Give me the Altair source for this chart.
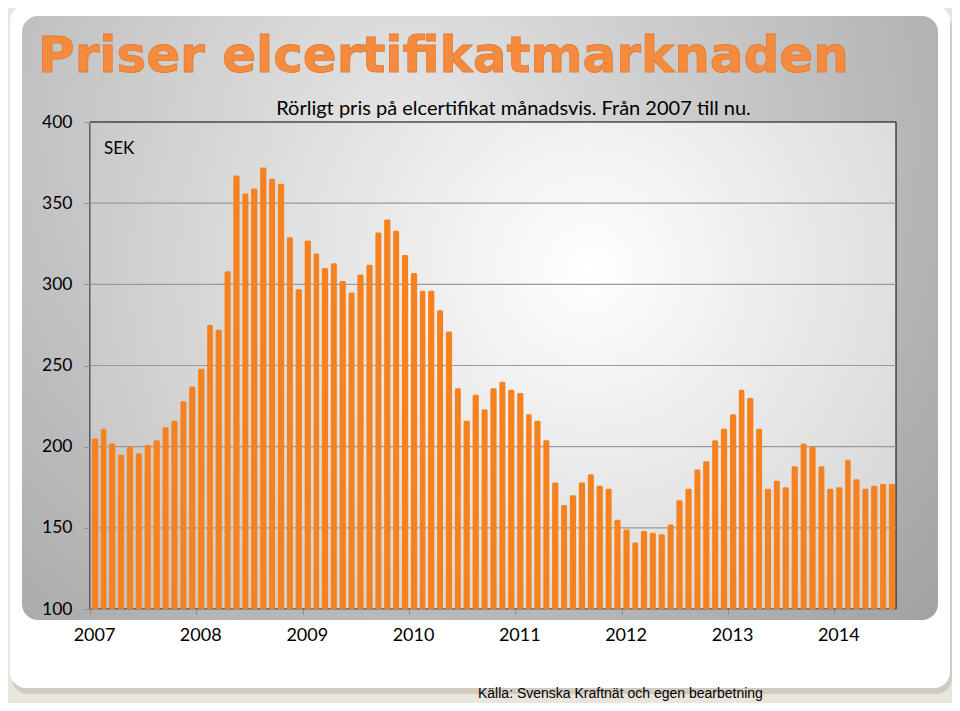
import altair as alt
import pandas as pd

# ---- data ----
years = [2007, 2008, 2009, 2010, 2011, 2012, 2013, 2014]
prices_2007 = [205, 211, 202, 195, 200, 196, 201, 204, 212, 216, 228, 237]
prices_2008 = [248, 275, 272, 308, 367, 356, 359, 372, 365, 362, 329, 297]
prices_2009 = [327, 319, 310, 313, 302, 295, 306, 312, 332, 340, 333, 318]
prices_2010 = [307, 296, 296, 284, 271, 236, 216, 232, 223, 236, 240, 235]
prices_2011 = [233, 220, 216, 204, 178, 164, 170, 178, 183, 176, 174, 155]
prices_2012 = [149, 141, 148, 147, 146, 152, 167, 174, 186, 191, 204, 211]
prices_2013 = [220, 235, 230, 211, 174, 179, 175, 188, 202, 200, 188, 174]
prices_2014 = [175, 192, 180, 174, 176, 177, 177]
grid_values = [150, 200, 250, 300, 350]
y_ticks = [100, 150, 200, 250, 300, 350, 400]

title_text = "Priser elcertifikatmarknaden"
subtitle_text = "Rörligt pris på elcertifikat månadsvis. Från 2007 till nu."
unit_text = "SEK"
source_text = "Källa: Svenska Kraftnät och egen bearbetning"

prices = (prices_2007 + prices_2008 + prices_2009 + prices_2010 +
          prices_2011 + prices_2012 + prices_2013 + prices_2014)
months = pd.date_range("2007-01-01", periods=len(prices), freq="MS").strftime("%Y-%m-%d").tolist()
df = pd.DataFrame({"month": months, "price": prices})

BAR = "#f5821f"
W, H = 806, 487
one = pd.DataFrame({"d": [0]})

yscale = alt.Scale(domain=[100, 400], zero=False, nice=False)
xscale = alt.Scale(domain=[alt.DateTime(year=2007, month=1, date=1, utc=True),
                           alt.DateTime(year=2014, month=8, date=1, utc=True)])
y_axis = alt.Axis(values=y_ticks, labelFont="Lato", labelFontSize=17.5, labelColor="#000000",
                  tickSize=6, labelPadding=12, tickColor="#8c8c8c", domainColor="#8c8c8c",
                  grid=False, zindex=1, title=None)


def panel(x, x2, y, y2, **kw):
    return alt.Chart(one).mark_rect(**kw).encode(
        x=alt.value(x), x2=alt.value(x2), y=alt.value(y), y2=alt.value(y2))


card_shadow = panel(-78, 862, -110, 572, cornerRadius=16, fill="#cdc8bd", opacity=0.9)
card = panel(-80, 860, -117, 566, cornerRadius=16, fill="#ffffff")
gray_panel = panel(-68, 848, -106, 498, cornerRadius=16, fill={
    "gradient": "radial", "x1": 0.42, "y1": 0.3, "r1": 0,
    "x2": 0.42, "y2": 0.3, "r2": 0.85,
    "stops": [{"offset": 0, "color": "#e6e6e6"}, {"offset": 1, "color": "#9c9c9c"}]})
plot_bg = panel(0, W, 0, H, stroke="#000000", strokeWidth=1, fill={
    "gradient": "radial", "x1": 0.62, "y1": 0.38, "r1": 0,
    "x2": 0.62, "y2": 0.38, "r2": 0.78,
    "stops": [{"offset": 0, "color": "#ffffff"}, {"offset": 1, "color": "#bebebe"}]})

grid = alt.Chart(pd.DataFrame({"price": grid_values})).mark_rule(
    color="#9a9a9a", strokeWidth=1.2).encode(
    y=alt.Y("price:Q", scale=yscale, axis=y_axis))

bars = alt.Chart(df).mark_bar(
    color=BAR, width=alt.RelativeBandSize(0.8),
    cornerRadiusTopLeft=1.5, cornerRadiusTopRight=1.5).encode(
    x=alt.X("utcyearmonth(month):T", scale=xscale, title=None,
            axis=alt.Axis(values=[alt.DateTime(year=y, month=1, date=1, utc=True) for y in years],
                          format="%Y", labelFont="Lato", labelFontSize=18, labelColor="#000000",
                          labelOffset=4, labelPadding=12, tickSize=5, tickColor="#8c8c8c",
                          domainColor="#8c8c8c", grid=False, labelFlush=False, zindex=1)),
    y=alt.Y("price:Q", scale=yscale, axis=y_axis),
    y2=alt.datum(100))


def label(text, x, y, **kw):
    return alt.Chart(one).mark_text(text=text, **kw).encode(x=alt.value(x), y=alt.value(y))


title = label(title_text, -52, -50, font="DejaVu Sans", fontWeight="bold", fontSize=50,
              align="left", baseline="alphabetic", color="#f58b3f",
              stroke="#e27a32", strokeWidth=0.8)
subtitle = label(subtitle_text, 423.5, -7, font="Lato", fontSize=20, align="center",
                 baseline="alphabetic", color="#000000")
unit = label(unit_text, 14, 32, font="Lato", fontSize=17, align="left",
             baseline="alphabetic", color="#000000")
source = label(source_text, 388, 576, font="Liberation Sans", fontSize=14, align="left",
               baseline="alphabetic", color="#000000")

chart = alt.layer(card_shadow, card, gray_panel, plot_bg, grid, bars,
                  title, subtitle, unit, source).properties(
    width=W, height=H, autosize="none",
    padding={"left": 82, "top": 114, "right": 56, "bottom": 94},
    background="#e9e5dc",
).configure_view(stroke=None)

chart.save("out.html", embed_options={"renderer": "svg", "actions": False})
